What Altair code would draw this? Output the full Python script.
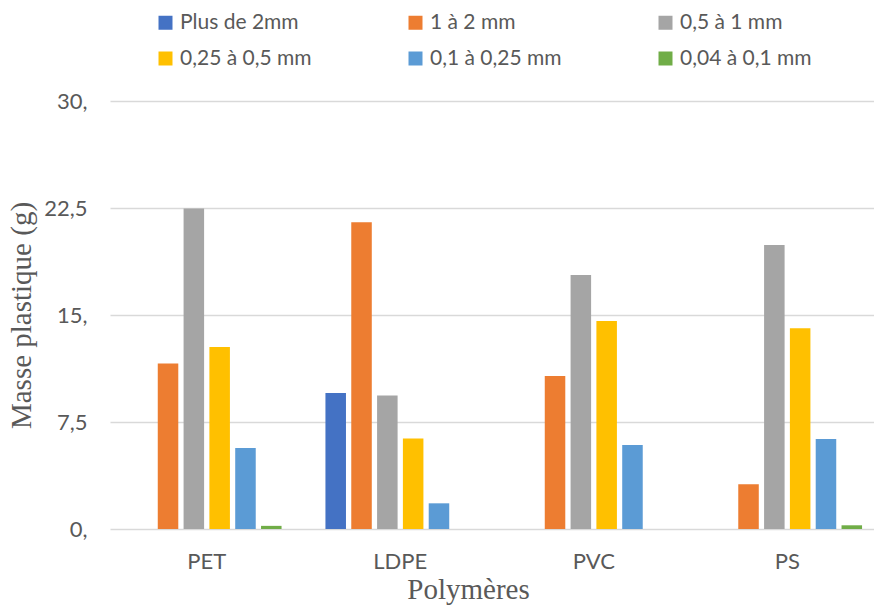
import altair as alt
import pandas as pd

# Polymer categories and particle-size fractions
polymeres = ["PET", "LDPE", "PVC", "PS"]
fractions = [
    "Plus de 2mm",
    "1 à 2 mm",
    "0,5 à 1 mm",
    "0,25 à 0,5 mm",
    "0,1 à 0,25 mm",
    "0,04 à 0,1 mm",
]

# Plastic mass (g) per fraction, one value per polymer
plus_de_2mm = [0.0, 9.53, 0.0, 0.0]
de_1_a_2 = [11.6, 21.5, 10.72, 3.13]
de_05_a_1 = [22.47, 9.35, 17.8, 19.9]
de_025_a_05 = [12.75, 6.35, 14.58, 14.07]
de_01_a_025 = [5.68, 1.8, 5.89, 6.31]
de_004_a_01 = [0.22, 0.0, 0.0, 0.26]

couleurs = ["#4472C4", "#ED7D31", "#A5A5A5", "#FFC000", "#5B9BD5", "#70AD47"]
y_ticks = [0, 7.5, 15, 22.5, 30]

series = [plus_de_2mm, de_1_a_2, de_05_a_1, de_025_a_05, de_01_a_025, de_004_a_01]
rows = []
for frac, vals in zip(fractions, series):
    for poly, v in zip(polymeres, vals):
        rows.append({"Polymère": poly, "Fraction": frac, "Masse": v})
df = pd.DataFrame(rows)

TEXT = "#595959"
SANS = "Lato"
SERIF = "Liberation Serif"

chart = (
    alt.Chart(df)
    .mark_bar()
    .encode(
        x=alt.X(
            "Polymère:N",
            sort=polymeres,
            scale=alt.Scale(range=[0, 774], paddingInner=0, paddingOuter=0),
            axis=alt.Axis(
                title="Polymères",
                labelAngle=0,
                labelFont=SANS,
                labelFontSize=22,
                labelColor=TEXT,
                labelPadding=22,
                ticks=False,
                domain=False,
                grid=False,
                titleFont=SERIF,
                titleFontSize=29,
                titleFontWeight="normal",
                titleColor=TEXT,
                titleX=358,
                titleY=69,
                titleBaseline="alphabetic",
                titleAlign="center",
            ),
        ),
        xOffset=alt.XOffset(
            "Fraction:N",
            sort=fractions,
            scale=alt.Scale(paddingInner=0.205, paddingOuter=0.85),
        ),
        y=alt.Y(
            "Masse:Q",
            scale=alt.Scale(domain=[0, 30], nice=False),
            axis=alt.Axis(
                title="Masse plastique (g)",
                values=y_ticks,
                labelExpr="datum.value == floor(datum.value) ? datum.value + ',' : replace(format(datum.value, '.1f'), '.', ',')",
                labelFont=SANS,
                labelFontSize=22,
                labelColor=TEXT,
                labelPadding=23,
                ticks=False,
                domain=False,
                grid=True,
                gridColor="#D9D9D9",
                gridWidth=1.5,
                titleFont=SERIF,
                titleFontSize=29,
                titleFontWeight="normal",
                titleColor=TEXT,
                titleAngle=-90,
                titleX=-89,
                titleY=214,
                titleBaseline="middle",
                titleAlign="center",
            ),
        ),
        color=alt.Color(
            "Fraction:N",
            sort=fractions,
            scale=alt.Scale(domain=fractions, range=couleurs),
            legend=alt.Legend(
                title=None,
                orient="none",
                legendX=45,
                legendY=-89,
                direction="horizontal",
                columns=3,
                gridAlign="all",
                columnPadding=93,
                rowPadding=14,
                padding=0,
                symbolType="square",
                symbolSize=196,
                symbolStrokeWidth=0,
                labelFont=SANS,
                labelFontSize=21,
                labelColor=TEXT,
                labelOffset=4,
                labelLimit=300,
            ),
        ),
    )
    .properties(
        width=764,
        height=428,
        background="white",
        autosize=alt.AutoSizeParams(type="none"),
        padding={"left": 110, "top": 101, "right": 0, "bottom": 76},
    )
    .configure_view(stroke="transparent", strokeWidth=0)
)

chart.save("out.html", embed_options={"renderer": "svg", "actions": False})
